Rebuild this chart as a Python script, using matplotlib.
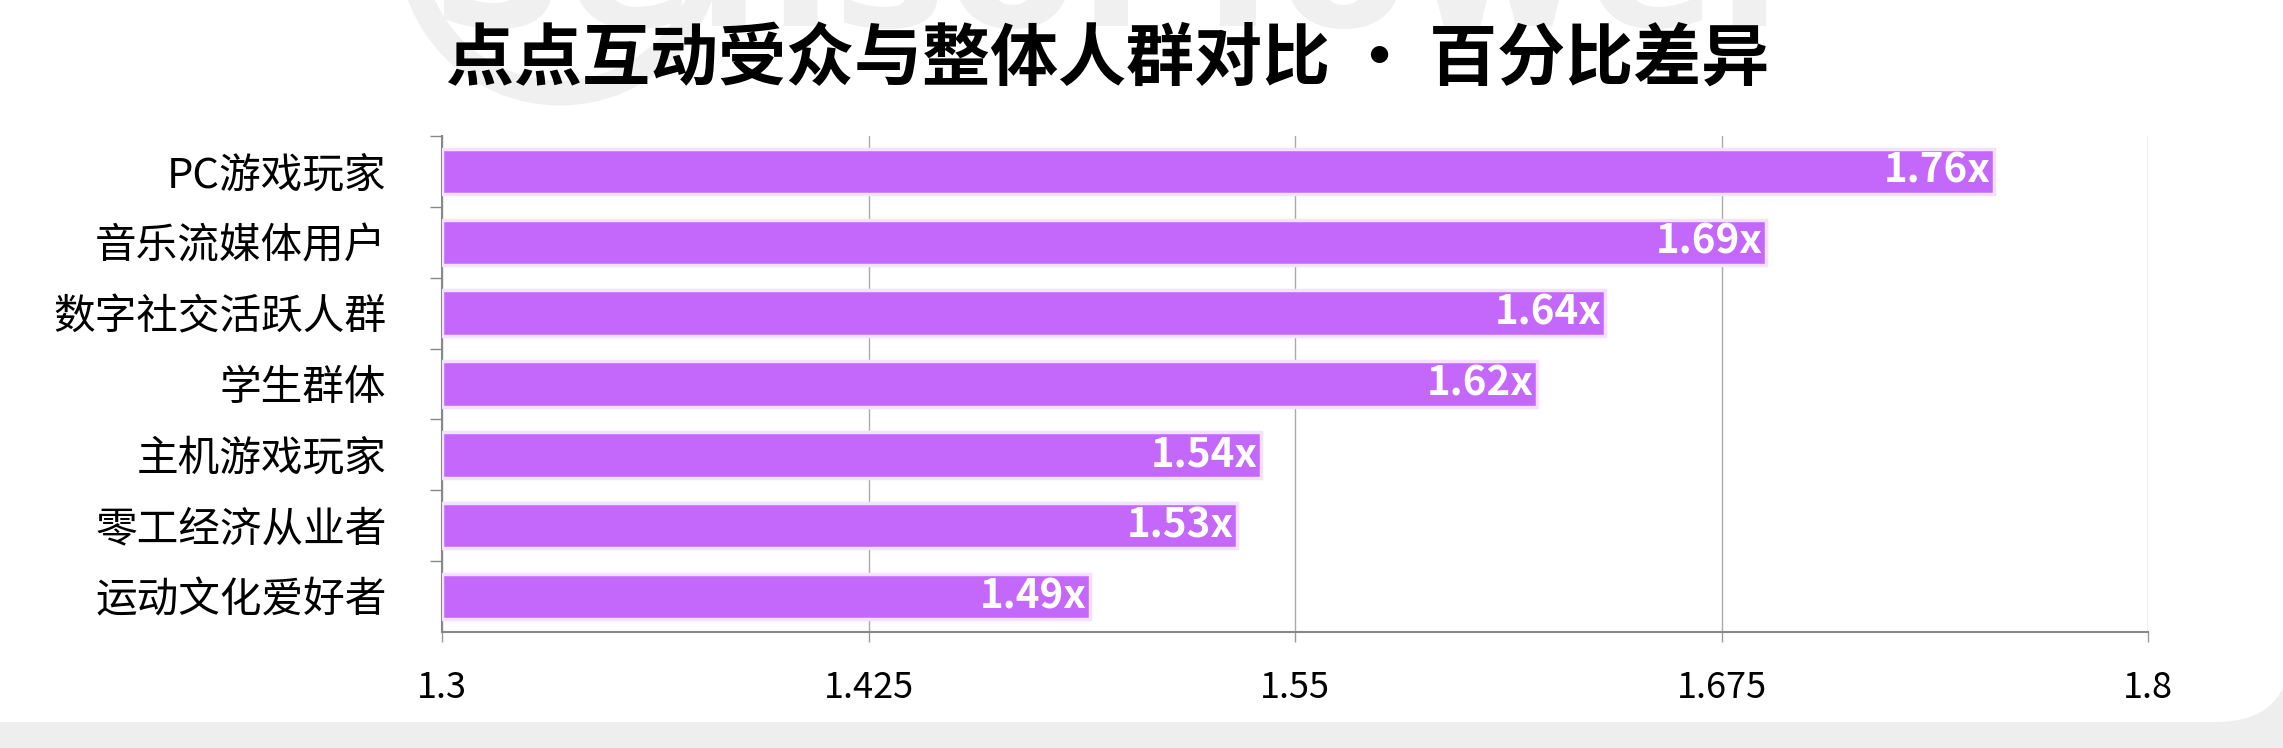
import matplotlib
matplotlib.use("Agg")
import matplotlib.pyplot as plt
from matplotlib.patches import FancyBboxPatch, Rectangle, Circle

plt.rcParams['font.family'] = ['Noto Sans CJK SC', 'DejaVu Sans']

# data
categories = ['PC游戏玩家', '音乐流媒体用户', '数字社交活跃人群', '学生群体',
              '主机游戏玩家', '零工经济从业者', '运动文化爱好者']
values = [1.755, 1.688, 1.641, 1.621, 1.540, 1.533, 1.490]
value_labels = ['1.76x', '1.69x', '1.64x', '1.62x', '1.54x', '1.53x', '1.49x']
xticks = [1.3, 1.425, 1.55, 1.675, 1.8]
xtick_labels = ['1.3', '1.425', '1.55', '1.675', '1.8']
title = '点点互动受众与整体人群对比 · 百分比差异'

W, H, DPI = 2283, 748, 100
fig = plt.figure(figsize=(W / DPI, H / DPI), dpi=DPI)

# grey page behind a white rounded card
fig.patches.append(Rectangle((0, 0), W, H, transform=None, facecolor='#eeeeee',
                             edgecolor='none', zorder=-3))
fig.patches.append(FancyBboxPatch((-300, 26), W + 300 + 8, 1000,
                                  boxstyle='round,pad=0,rounding_size=75',
                                  transform=None, facecolor='white',
                                  edgecolor='none', zorder=-2))

# faint watermark at the top, mostly cut off
fig.text(1120, 722, 'SensorTower', transform=None, fontsize=138,
         fontweight='bold', color='#f0f0f0', ha='center', va='baseline',
         family='DejaVu Sans', zorder=-1)
fig.patches.append(Circle((560, 805), 150, transform=None, facecolor='none',
                          edgecolor='#f0f0f0', linewidth=18, zorder=-1))

ax = fig.add_axes([442 / W, (H - 632) / H, (2148 - 442) / W, (632 - 136) / H])
ax.patch.set_alpha(0)

ypos = list(range(len(categories)))
bars = ax.barh(ypos, [v - xticks[0] for v in values], left=xticks[0],
               height=0.64, color='#c467fb', edgecolor='#f4e0ff',
               linewidth=2.5, zorder=3)

for b, lab in zip(bars, value_labels):
    ax.text(b.get_x() + b.get_width() - 0.001, b.get_y() + b.get_height() / 2,
            lab, ha='right', va='center', color='white', fontsize=29,
            fontweight='bold', zorder=4)

ax.set_xlim(xticks[0], xticks[-1])
ax.set_ylim(len(categories) - 0.5, -0.5)

ax.set_xticks(xticks)
ax.set_xticklabels(xtick_labels, fontsize=26)
ax.tick_params(axis='x', length=7, width=1, color='#999999', pad=20)
ax.grid(axis='x', color='#aaaaaa', linewidth=1, zorder=0)

ax.set_yticks(ypos)
ax.set_yticklabels(categories, fontsize=30)
ax.tick_params(axis='y', which='major', length=0, pad=40)
ax.set_yticks([y + 0.5 for y in ypos[:-1]] + [-0.5], minor=True)
ax.tick_params(axis='y', which='minor', length=9, width=1, color='#888888')

for s in ['top', 'right']:
    ax.spines[s].set_visible(False)
for s in ['left', 'bottom']:
    ax.spines[s].set_color('#888888')
    ax.spines[s].set_linewidth(1.5)

fig.text(446 / W, (H - 60) / H, title, fontsize=49, fontweight='bold',
         ha='left', va='center', color='black')

fig.savefig('out.png', dpi=DPI)
